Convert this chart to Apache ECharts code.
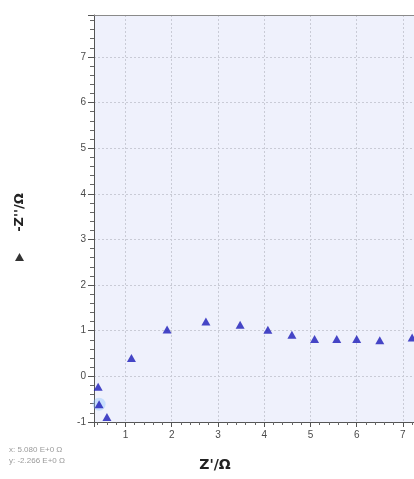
<!DOCTYPE html>
<html>
<head>
<meta charset="utf-8">
<script src="https://cdn.jsdelivr.net/npm/echarts@6/dist/echarts.min.js"></script>
<style>
html,body{margin:0;padding:0;background:#fff;}
#chart{width:414px;height:479px;}
</style>
</head>
<body>
<div id="chart"></div>
<script>
// Data (Nyquist plot)
const zReal = [0.41, 0.43, 0.60, 1.13, 1.90, 2.74, 3.48, 4.08, 4.60, 5.09, 5.57, 6.00, 6.50, 7.20];
const zImag = [-0.23, -0.61, -0.89, 0.40, 1.03, 1.20, 1.13, 1.02, 0.91, 0.82, 0.82, 0.82, 0.79, 0.85];
const selectedIndex = [1];
const xTickLabels = ['1', '2', '3', '4', '5', '6', '7'];
const yTickLabels = ['-1', '0', '1', '2', '3', '4', '5', '6', '7'];
const cursorText = ['x: 5.080 E+0 \u03A9', 'y: -2.266 E+0 \u03A9'];

const points = zReal.map((x, i) => [x, zImag[i]]);
const halo = selectedIndex.map(i => [zReal[i], zImag[i]]);

const chart = echarts.init(document.getElementById('chart'), null, {renderer: 'canvas'});
const labelFmt = (list) => (v) => {
  const s = String(Math.round(v));
  return (Math.abs(v - Math.round(v)) < 1e-6 && list.indexOf(s) >= 0) ? s : '';
};
const gridLine = {show: true, lineStyle: {color: '#c9cbd6', type: [2, 2], width: 1}};
const X_MIN = 0.32, X_MAX = 7.24;

chart.setOption({
  animation: false,
  backgroundColor: '#ffffff',
  grid: {
    left: 94, top: 15, right: 0, bottom: 57,
    show: true, backgroundColor: '#eff1fc', borderWidth: 0
  },
  legend: {
    data: [{name: 'Z', icon: 'triangle', itemStyle: {color: '#000'}}],
    formatter: () => '',
    left: 15, top: 253, itemWidth: 9, itemHeight: 8, itemGap: 0, padding: 0,
    selectedMode: false
  },
  xAxis: [{
    type: 'value', min: X_MIN, max: X_MAX, splitNumber: 7,
    name: 'Z\'/\u03A9', nameLocation: 'middle', nameGap: 36,
    nameTextStyle: {fontFamily: 'DejaVu Sans', fontWeight: 'bold', fontSize: 14, color: '#222', padding: [0, 78, 0, 0]},
    axisLine: {show: true, onZero: false, lineStyle: {color: '#555', width: 1}},
    axisTick: {show: true, length: 5, lineStyle: {color: '#555'}},
    minorTick: {show: true, splitNumber: 5, length: 3, lineStyle: {color: '#666'}},
    axisLabel: {fontFamily: 'Liberation Sans', fontSize: 10, color: '#4a4a4a', margin: 8,
      formatter: labelFmt(xTickLabels), showMinLabel: false, showMaxLabel: false},
    splitLine: gridLine
  }, {
    type: 'value', position: 'top', min: X_MIN, max: X_MAX,
    axisLine: {show: true, onZero: false, lineStyle: {color: '#8a8a8a', width: 1}},
    axisTick: {show: false}, axisLabel: {show: false}, splitLine: {show: false}
  }],
  yAxis: {
    type: 'value', min: -1, max: 7.92, interval: 1,
    name: '-Z\'\'/\u03A9', nameLocation: 'middle', nameGap: 68, nameRotate: 90,
    nameTextStyle: {fontFamily: 'DejaVu Sans', fontWeight: 'bold', fontSize: 13, color: '#222', padding: [0, 0, 0, 12]},
    axisLine: {show: true, onZero: false, lineStyle: {color: '#555', width: 1}},
    axisTick: {show: true, length: 6, lineStyle: {color: '#555'}},
    minorTick: {show: true, splitNumber: 5, length: 4, lineStyle: {color: '#666'}},
    axisLabel: {fontFamily: 'Liberation Sans', fontSize: 10, color: '#4a4a4a', margin: 8,
      formatter: labelFmt(yTickLabels), showMaxLabel: false},
    splitLine: gridLine
  },
  graphic: [
    {type: 'text', left: 9, top: 446, style: {text: cursorText[0], fontFamily: 'Liberation Sans', fontSize: 8, fill: '#9a9a9a'}},
    {type: 'text', left: 9, top: 457, style: {text: cursorText[1], fontFamily: 'Liberation Sans', fontSize: 8, fill: '#9a9a9a'}}
  ],
  series: [
    {
      name: 'halo', type: 'scatter', data: halo, symbol: 'circle', symbolSize: 13,
      itemStyle: {color: 'rgba(130,190,255,0.45)'}, silent: true, z: 1
    },
    {
      name: 'Z', type: 'scatter', data: points, symbol: 'triangle', symbolSize: [9, 8],
      itemStyle: {color: '#1a1ab8'}, z: 2
    }
  ]
});
</script>
</body>
</html>
